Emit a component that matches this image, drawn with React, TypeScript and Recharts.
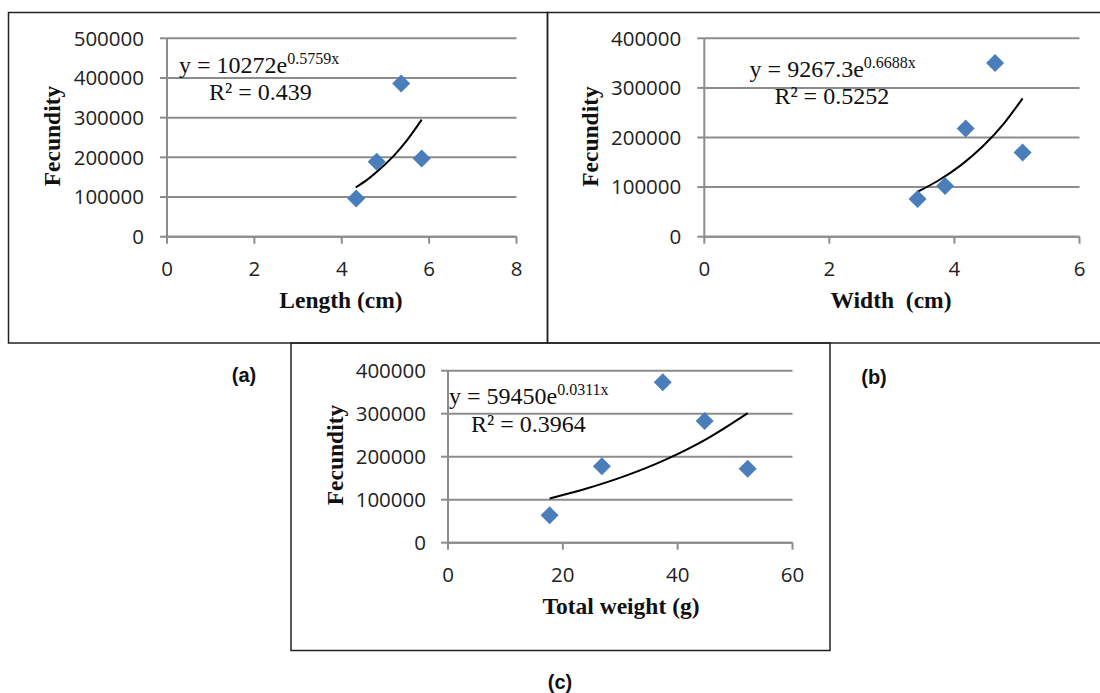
import React from "react";
import { ComposedChart, XAxis, YAxis, CartesianGrid, Scatter, Line } from "recharts";

// ---- Data ----
// (a) Length vs fecundity
const lengthCm = [4.33, 4.8, 5.36, 5.83];
const fecundityA = [96000, 189000, 386000, 197000];
const trendAX = [4.32, 4.6, 4.9, 5.2, 5.5, 5.83];
const trendAY = [124000, 145000, 173000, 205000, 244000, 295000];

// (b) Width vs fecundity
const widthCm = [3.41, 3.85, 4.18, 4.65, 5.09];
const fecundityB = [76000, 102000, 218000, 350000, 170000];
const trendBX = [3.41, 3.75, 4.1, 4.45, 4.8, 5.09];
const trendBY = [90600, 113800, 143800, 181800, 229700, 279000];

// (c) Total weight vs fecundity
const weightG = [17.7, 26.8, 37.4, 44.7, 52.2];
const fecundityC = [63700, 178000, 373000, 283000, 172000];
const trendCX = [17.7, 24, 31, 38, 45, 52.2];
const trendCY = [103000, 125400, 155900, 193800, 241000, 301400];

const ticksA_X = [0, 2, 4, 6, 8];
const ticksA_Y = [0, 100000, 200000, 300000, 400000, 500000];
const ticksB_X = [0, 2, 4, 6];
const ticksB_Y = [0, 100000, 200000, 300000, 400000];
const ticksC_X = [0, 20, 40, 60];
const ticksC_Y = [0, 100000, 200000, 300000, 400000];

const zip = (xs: number[], ys: number[]) => xs.map((x, i) => ({ x, y: ys[i] }));

const GRID = "#8c8c8c";
const MARKER = "#4a7ebb";
const tickStyle = { fontFamily: "'Open Sans'", fontSize: 20.5, fill: "#222" };

const Diamond = (props: any) => {
  const { cx, cy } = props;
  if (cx == null || cy == null) return <g />;
  const r = 9;
  return <path d={`M${cx},${cy - r}L${cx + r},${cy}L${cx},${cy + r}L${cx - r},${cy}Z`} fill={MARKER} />;
};

type PanelProps = {
  left: number;
  top: number;
  width: number;
  height: number;
  margin: { top: number; right: number; bottom: number; left: number };
  xDomain: [number, number];
  xTicks: number[];
  yDomain: [number, number];
  yTicks: number[];
  points: { x: number; y: number }[];
  trend: { x: number; y: number }[];
  yTickMargin: number;
};

const Panel = (p: PanelProps) => (
  <div style={{ position: "absolute", left: p.left, top: p.top, width: p.width, height: p.height }}>
    <ComposedChart width={p.width} height={p.height} margin={p.margin}>
      <CartesianGrid vertical={false} stroke={GRID} strokeWidth={2} />
      <XAxis
        type="number"
        dataKey="x"
        domain={p.xDomain}
        ticks={p.xTicks}
        interval={0}
        height={40}
        tickSize={7}
        tickMargin={18}
        axisLine={{ stroke: GRID, strokeWidth: 2 }}
        tickLine={{ stroke: GRID, strokeWidth: 2 }}
        tick={tickStyle}
        allowDataOverflow
      />
      <YAxis
        type="number"
        dataKey="y"
        domain={p.yDomain}
        ticks={p.yTicks}
        interval={0}
        width={100}
        tickSize={7}
        tickMargin={p.yTickMargin}
        axisLine={{ stroke: GRID, strokeWidth: 2 }}
        tickLine={{ stroke: GRID, strokeWidth: 2 }}
        tick={tickStyle}
        allowDataOverflow
      />
      <Line
        data={p.trend}
        dataKey="y"
        type="monotone"
        stroke="#000"
        strokeWidth={2}
        dot={false}
        activeDot={false}
        isAnimationActive={false}
      />
      <Scatter data={p.points} dataKey="y" shape={Diamond} isAnimationActive={false} />
    </ComposedChart>
  </div>
);

const serif = "'Liberation Serif', 'Times New Roman', serif";
const sans = "'Liberation Sans', Arial, sans-serif";

export default function App() {
  return (
    <div style={{ position: "absolute", left: 0, top: 0, width: 1100, height: 693, background: "#fff", overflow: "hidden" }}>
      <Panel
        left={0}
        top={0}
        width={548}
        height={345}
        margin={{ top: 38.3, right: 31.5, bottom: 68.3, left: 67 }}
        xDomain={[0, 8]}
        xTicks={ticksA_X}
        yDomain={[0, 500000]}
        yTicks={ticksA_Y}
        points={zip(lengthCm, fecundityA)}
        trend={zip(trendAX, trendAY)}
        yTickMargin={16}
      />
      <Panel
        left={548}
        top={0}
        width={552}
        height={345}
        margin={{ top: 38.3, right: 20.5, bottom: 68.3, left: 56.3 }}
        xDomain={[0, 6]}
        xTicks={ticksB_X}
        yDomain={[0, 400000]}
        yTicks={ticksB_Y}
        points={zip(widthCm, fecundityB)}
        trend={zip(trendBX, trendBY)}
        yTickMargin={16}
      />
      <Panel
        left={291}
        top={343}
        width={540}
        height={310}
        margin={{ top: 27.7, right: 38.5, bottom: 70.3, left: 57 }}
        xDomain={[0, 60]}
        xTicks={ticksC_X}
        yDomain={[0, 400000]}
        yTicks={ticksC_Y}
        points={zip(weightG, fecundityC)}
        trend={zip(trendCX, trendCY)}
        yTickMargin={15}
      />
      <svg
        width={1100}
        height={693}
        style={{ position: "absolute", left: 0, top: 0, pointerEvents: "none" }}
      >
        {/* frames */}
        <rect x={8.5} y={12.5} width={539} height={330.5} fill="none" stroke="#222" strokeWidth={1.5} />
        <rect x={547.5} y={12.5} width={560} height={330.5} fill="none" stroke="#222" strokeWidth={1.5} />
        <rect x={291} y={343} width={539} height={307.5} fill="none" stroke="#222" strokeWidth={1.5} />

        {/* (a) */}
        <text x={179} y={73} fontFamily={serif} fontSize={24} fill="#111">
          <tspan>y = 10272e</tspan>
          <tspan fontSize={16} dy={-9}>0.5759x</tspan>
        </text>
        <text x={209} y={100} fontFamily={serif} fontSize={24} fill="#111">R² = 0.439</text>
        <text x={341} y={308} textAnchor="middle" fontFamily={serif} fontWeight="bold" fontSize={23.5} fill="#111">Length (cm)</text>
        <text x={59.6} y={136} transform="rotate(-90 59.6 136)" textAnchor="middle" fontFamily={serif} fontWeight="bold" fontSize={23.5} fill="#111">Fecundity</text>

        {/* (b) */}
        <text x={749.6} y={77} fontFamily={serif} fontSize={24} fill="#111">
          <tspan>y = 9267.3e</tspan>
          <tspan fontSize={16} dy={-9}>0.6688x</tspan>
        </text>
        <text x={774.4} y={104} fontFamily={serif} fontSize={24} fill="#111">R² = 0.5252</text>
        <text x={891} y={308} textAnchor="middle" fontFamily={serif} fontWeight="bold" fontSize={23.5} fill="#111" style={{ whiteSpace: "pre" }}>Width  (cm)</text>
        <text x={598} y={136.5} transform="rotate(-90 598 136.5)" textAnchor="middle" fontFamily={serif} fontWeight="bold" fontSize={23.5} fill="#111">Fecundity</text>

        {/* (c) */}
        <text x={449} y={404} fontFamily={serif} fontSize={24} fill="#111">
          <tspan>y = 59450e</tspan>
          <tspan fontSize={16} dy={-9}>0.0311x</tspan>
        </text>
        <text x={471} y={432} fontFamily={serif} fontSize={24} fill="#111">R² = 0.3964</text>
        <text x={621} y={614} textAnchor="middle" fontFamily={serif} fontWeight="bold" fontSize={23.5} fill="#111">Total weight (g)</text>
        <text x={342.5} y={455} transform="rotate(-90 342.5 455)" textAnchor="middle" fontFamily={serif} fontWeight="bold" fontSize={23.5} fill="#111">Fecundity</text>

        {/* panel labels */}
        <text x={244} y={382} textAnchor="middle" fontFamily={sans} fontWeight="bold" fontSize={20} fill="#111">(a)</text>
        <text x={874} y={384} textAnchor="middle" fontFamily={sans} fontWeight="bold" fontSize={20} fill="#111">(b)</text>
        <text x={560} y={689} textAnchor="middle" fontFamily={sans} fontWeight="bold" fontSize={20} fill="#111">(c)</text>
      </svg>
    </div>
  );
}
